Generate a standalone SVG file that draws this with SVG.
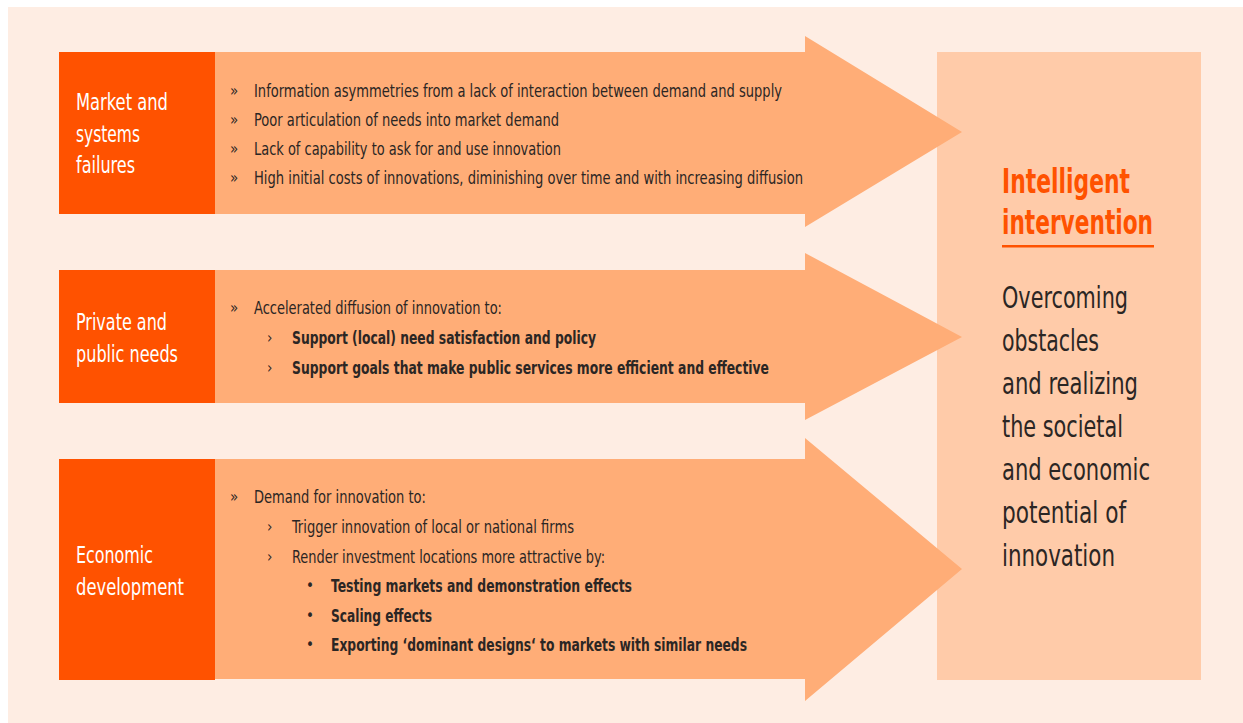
<svg xmlns="http://www.w3.org/2000/svg" width="1243" height="723" viewBox="0 0 1243 723">
<style>
text{font-family:"DejaVu Sans Condensed","DejaVu Sans","Liberation Sans",sans-serif;}
.lab{fill:#ffffff;font-size:23px;}
.t{fill:#2b2624;font-size:18px;}
.b{font-weight:bold;}
.mk{fill:#2b2624;font-size:15px;}
.box{fill:#ff5200;}
.arr{fill:#ffad77;}
.ttl{fill:#ff5200;font-size:33px;font-weight:bold;}
.body{fill:#2b2624;font-size:30px;}
</style>
<rect x="8" y="7" width="1235" height="716" fill="#feede3"/>
<g id="outcome">
<rect x="937" y="52" width="264" height="628" fill="#ffcba9"/>
<text class="ttl" x="1002" y="193" textLength="128" lengthAdjust="spacingAndGlyphs">Intelligent</text>
<text class="ttl" x="1002" y="234" textLength="151" lengthAdjust="spacingAndGlyphs">intervention</text>
<rect x="1002" y="245" width="152" height="2.5" fill="#ff5200"/>
<text class="body" x="1002" y="308" textLength="126" lengthAdjust="spacingAndGlyphs">Overcoming</text>
<text class="body" x="1002" y="351" textLength="97" lengthAdjust="spacingAndGlyphs">obstacles</text>
<text class="body" x="1002" y="394" textLength="136" lengthAdjust="spacingAndGlyphs">and realizing</text>
<text class="body" x="1002" y="437" textLength="121" lengthAdjust="spacingAndGlyphs">the societal</text>
<text class="body" x="1002" y="480" textLength="148" lengthAdjust="spacingAndGlyphs">and economic</text>
<text class="body" x="1002" y="523" textLength="124" lengthAdjust="spacingAndGlyphs">potential of</text>
<text class="body" x="1002" y="566" textLength="113" lengthAdjust="spacingAndGlyphs">innovation</text>
</g>
<g id="connectors">
<polygon class="arr" points="215,52 805,52 805,36 962,132 805,227 805,214 215,214"/>
<polygon class="arr" points="215,270 805,270 805,253 962,337 805,420 805,403 215,403"/>
<polygon class="arr" points="215,459 805,459 805,438 962,569 805,701 805,679 215,679"/>
</g>
<g id="market">
<rect class="box" x="59" y="52" width="156" height="162"/>
<text class="lab" x="76" y="110" textLength="92" lengthAdjust="spacingAndGlyphs">Market and</text>
<text class="lab" x="76" y="142" textLength="64" lengthAdjust="spacingAndGlyphs">systems</text>
<text class="lab" x="76" y="173" textLength="59" lengthAdjust="spacingAndGlyphs">failures</text>
<text class="mk" x="230" y="96">»</text>
<text class="t" x="254" y="96.5" textLength="528" lengthAdjust="spacingAndGlyphs">Information asymmetries from a lack of interaction between demand and supply</text>
<text class="mk" x="230" y="125">»</text>
<text class="t" x="254" y="125.5" textLength="305" lengthAdjust="spacingAndGlyphs">Poor articulation of needs into market demand</text>
<text class="mk" x="230" y="154">»</text>
<text class="t" x="254" y="154.5" textLength="307" lengthAdjust="spacingAndGlyphs">Lack of capability to ask for and use innovation</text>
<text class="mk" x="230" y="183">»</text>
<text class="t" x="254" y="183.5" textLength="549" lengthAdjust="spacingAndGlyphs">High initial costs of innovations, diminishing over time and with increasing diffusion</text>
</g>
<g id="needs">
<rect class="box" x="59" y="270" width="156" height="133"/>
<text class="lab" x="76" y="330" textLength="91" lengthAdjust="spacingAndGlyphs">Private and</text>
<text class="lab" x="76" y="362" textLength="102" lengthAdjust="spacingAndGlyphs">public needs</text>
<text class="mk" x="230" y="313">»</text>
<text class="t" x="254" y="314" textLength="248" lengthAdjust="spacingAndGlyphs">Accelerated diffusion of innovation to:</text>
<text class="mk" x="267" y="343">›</text>
<text class="t b" x="292" y="344" textLength="304" lengthAdjust="spacingAndGlyphs">Support (local) need satisfaction and policy</text>
<text class="mk" x="267" y="373">›</text>
<text class="t b" x="292" y="374" textLength="477" lengthAdjust="spacingAndGlyphs">Support goals that make public services more efficient and effective</text>
</g>
<g id="economic">
<rect class="box" x="59" y="459" width="156" height="221"/>
<text class="lab" x="76" y="563" textLength="77" lengthAdjust="spacingAndGlyphs">Economic</text>
<text class="lab" x="76" y="595" textLength="108" lengthAdjust="spacingAndGlyphs">development</text>
<text class="mk" x="230" y="502">»</text>
<text class="t" x="254" y="503" textLength="172" lengthAdjust="spacingAndGlyphs">Demand for innovation to:</text>
<text class="mk" x="267" y="532">›</text>
<text class="t" x="292" y="533" textLength="282" lengthAdjust="spacingAndGlyphs">Trigger innovation of local or national firms</text>
<text class="mk" x="267" y="562">›</text>
<text class="t" x="292" y="563" textLength="313" lengthAdjust="spacingAndGlyphs">Render investment locations more attractive by:</text>
<text class="mk" x="306" y="591">•</text>
<text class="t b" x="331" y="592" textLength="301" lengthAdjust="spacingAndGlyphs">Testing markets and demonstration effects</text>
<text class="mk" x="306" y="621">•</text>
<text class="t b" x="331" y="622" textLength="101" lengthAdjust="spacingAndGlyphs">Scaling effects</text>
<text class="mk" x="306" y="650">•</text>
<text class="t b" x="331" y="651" textLength="416" lengthAdjust="spacingAndGlyphs">Exporting ‘dominant designs‘ to markets with similar needs</text>
</g>
</svg>
